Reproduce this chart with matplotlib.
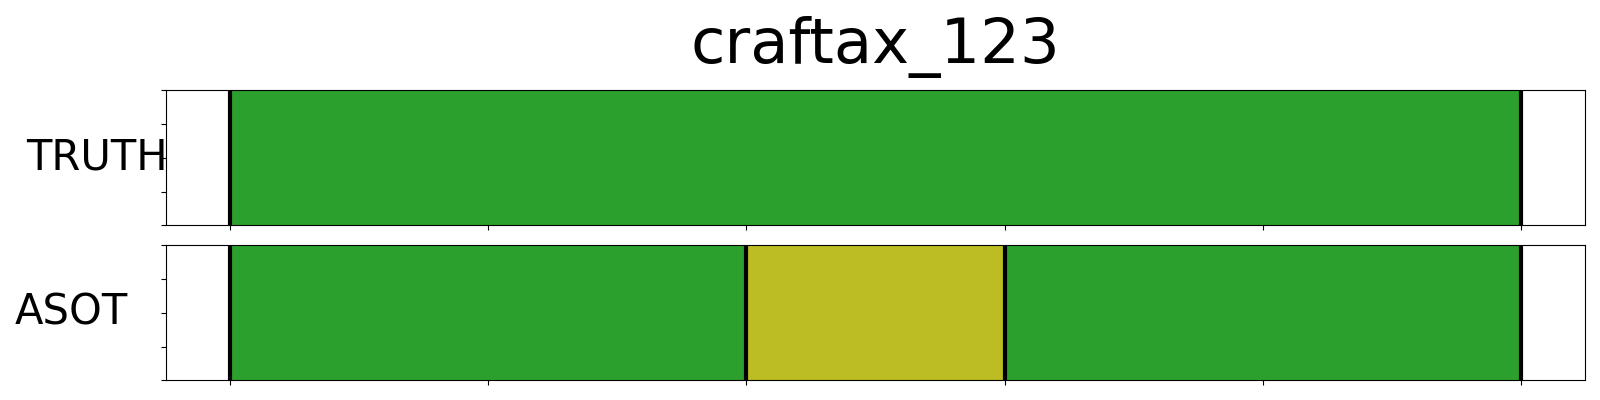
import numpy as np
import matplotlib
matplotlib.use('Agg')
from matplotlib import pyplot as plt

title = "craftax_123"
row_names = ["TRUTH", "ASOT"]

# segments per row: (start, end, colour)
truth_starts = [0]
truth_ends = [5]
truth_colors = ["#2ca02c"]

asot_starts = [0, 2, 3]
asot_ends = [2, 3, 5]
asot_colors = ["#2ca02c", "#bcbd22", "#2ca02c"]

rows = [(truth_starts, truth_ends, truth_colors),
        (asot_starts, asot_ends, asot_colors)]

fig = plt.figure(figsize=(16, 4), dpi=100)
ax_top = fig.add_axes([0.1036, 0.43675, 0.8872, 0.3375])
ax_bot = fig.add_axes([0.1036, 0.04925, 0.8872, 0.3375])
axes = [ax_top, ax_bot]
label_x = [-0.0482, -0.0667]

for ax, name, (starts, ends, colors), lx in zip(axes, row_names, rows, label_x):
    starts = np.array(starts)
    ends = np.array(ends)
    ax.barh(0.5, ends - starts, left=starts, height=1.0, color=colors,
            edgecolor=colors, linewidth=0.5)
    for b in np.unique(np.concatenate([starts, ends])):
        ax.axvline(b, color='black', linewidth=3)
    lo, hi = starts.min(), ends.max()
    pad = 0.05 * (hi - lo)
    ax.set_xlim(lo - pad, hi + pad)
    ax.set_ylim(0, 1)
    ax.set_yticks([0, 0.25, 0.5, 0.75, 1.0])
    ax.set_yticklabels([])
    ax.set_xticks(np.arange(0, 6))
    ax.set_xticklabels([])
    ax.set_ylabel(name, rotation=0, fontsize=30, ha='center', va='center')
    ax.yaxis.set_label_coords(lx, 0.5)

fig.text(0.547, 1 - 63 / 400, title, fontsize=45, ha='center', va='baseline')

plt.savefig('out.png', dpi=100)
